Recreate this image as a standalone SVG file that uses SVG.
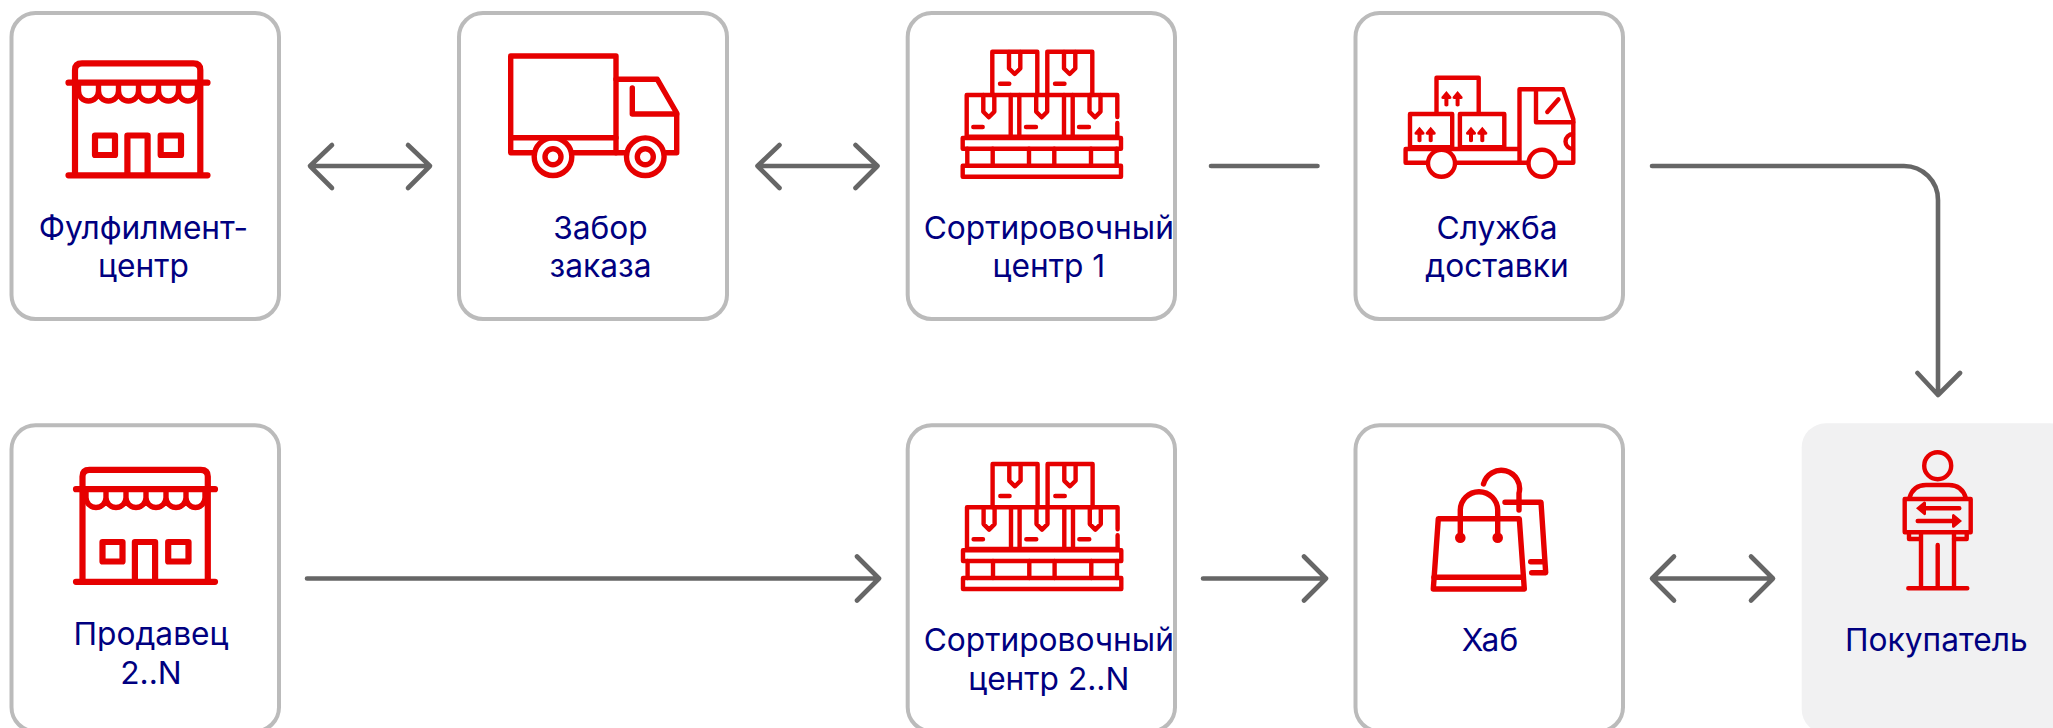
<svg xmlns="http://www.w3.org/2000/svg" xmlns:xlink="http://www.w3.org/1999/xlink" width="2053" height="728" viewBox="0 0 2053 728">
<style>
.box{fill:#fff;stroke:#bbb;stroke-width:4}
.buyer{fill:#f1f1f2;stroke:none}
.c{fill:none;stroke:#666;stroke-width:4.6;stroke-linecap:round;stroke-linejoin:round}
.i{fill:none;stroke:#e60000;stroke-linecap:round;stroke-linejoin:round;stroke-width:4.4}
.s6{stroke-width:6.200}
.s5{stroke-width:5.400}
.r{fill:#e60000;stroke:none}
.t{font-family:Inter,"Liberation Sans",sans-serif;font-size:31.700px;fill:#000080;text-anchor:middle}
</style>
<defs>
<g id="store" class="i s6">
<path d="M75,175 V70 Q75,63.300 82,63.300 H193.300 Q200.300,63.300 200.300,70 V175"/>
<path d="M68.500,82.700 H207.500 M68.500,175.300 H207.500"/>
<path class="s5" d="M78.500,83 V91 a10,10 0 0 0 20,0 V83 M98.500,91 a10,10 0 0 0 20,0 V83 M118.500,91 a10,10 0 0 0 20,0 V83 M138.500,91 a10,10 0 0 0 20,0 V83 M158.500,91 a10,10 0 0 0 20,0 V83 M178.500,91 a9.500,10 0 0 0 19,0 V83"/>
<rect x="95" y="135.500" width="20" height="19.500"/>
<rect x="160.700" y="135.500" width="20.300" height="19.500"/>
<path d="M127.400,175 V135.500 H147.600 V175"/>
</g>
<g id="pallet" class="i">
<path d="M992.300,95 V51.700 H1037.300 V95 M1047.300,95 V51.700 H1092.300 V95"/>
<path d="M966.700,136.700 V95 H1117.300 V117 M1117.300,123 V136.700"/>
<path d="M1010.700,95 V136.700 M1019.300,95 V136.700 M1064,95 V136.700 M1072.700,95 V136.700"/>
<path d="M966.700,136.700 H1117.300"/>
<path d="M1009,52 V68.500 L1014.700,74 L1020.300,68.500 V52 M1064,52 V68.500 L1069.700,74 L1075.300,68.500 V52"/>
<path d="M983.300,95 V111.800 L988.800,117.300 L994.300,111.800 V95 M1036.200,95 V111.800 L1041.700,117.300 L1047.200,111.800 V95 M1089.500,95 V111.800 L1095,117.300 L1100.500,111.800 V95"/>
<path d="M1000,83.700 H1009.300 M1055,83.700 H1064.500 M973.300,127 H982.700 M1026,127 H1036 M1079,127 H1089"/>
<rect x="962.700" y="138" width="158.300" height="10.700"/>
<path d="M967.300,148.700 V165.700 M992.700,148.700 V165.700 M1029,148.700 V165.700 M1054.300,148.700 V165.700 M1091,148.700 V165.700 M1116.700,148.700 V165.700"/>
<rect x="962.700" y="165.700" width="158.300" height="11"/>
</g>
<g id="up">
<path class="r" d="M0,0 L5,6 Q5.500,8 3.500,8 H2 V14.500 Q0,16.500 -2,14.500 V8 H-3.500 Q-5.500,8 -5,6 Z"/>
</g>
</defs>
<g id="connectors">
<path class="c" d="M310,166 H430 M332,145 L310,166 L332,188 M408,145 L430,166 L408,188"/>
<path class="c" d="M757.500,166 H877.500 M779.500,145 L757.500,166 L779.500,188 M855.500,145 L877.500,166 L855.500,188"/>
<path class="c" d="M1211,166 H1317.500"/>
<path class="c" d="M1652,166 H1904 A34,34 0 0 1 1938,200 V395 M1917.500,373 L1938,395 L1960,373"/>
<path class="c" d="M307,578.500 H878 M857,556.500 L879,578.500 L857,600.500"/>
<path class="c" d="M1203,578.500 H1326 M1304,556.500 L1326,578.500 L1304,600.500"/>
<path class="c" d="M1652,578.500 H1773 M1674,556.500 L1652,578.500 L1674,600.500 M1751,556.500 L1773,578.500 L1751,600.500"/>
</g>
<g id="node-fulfilment">
<rect class="box" x="11.500" y="13" width="267.500" height="306" rx="24"/>
<use xlink:href="#store" href="#store"/>
<text class="t" x="143.500" y="238.800">Фулфилмент-</text>
<text class="t" x="143.500" y="277.200">центр</text>
</g>
<g id="node-pickup">
<rect class="box" x="459" y="13" width="268" height="306" rx="24"/>
<g class="i s5">
<path d="M510.700,137.700 V56 H616 V152.700"/>
<path d="M510.700,137.700 H616"/>
<path d="M532.500,152.700 H510.700 V137.700 M572,152.700 H625 M666,152.700 H676.700 V113 L657.300,79.300 H616"/>
<path d="M632.300,88 V114 H676.700"/>
<circle cx="553" cy="156.700" r="18.800"/>
<circle cx="553" cy="156.700" r="8"/>
<circle cx="645.300" cy="156.700" r="18.800"/>
<circle cx="645.300" cy="156.700" r="8"/>
</g>
<text class="t" x="600.500" y="238.800">Забор</text>
<text class="t" x="600.500" y="277.200">заказа</text>
</g>
<g id="node-sort-1">
<rect class="box" x="907.700" y="13" width="267.300" height="306" rx="24"/>
<use xlink:href="#pallet" href="#pallet"/>
<text class="t" x="1048.800" y="238.800">Сортировочный</text>
<text class="t" x="1048.800" y="277.200">центр 1</text>
</g>
<g id="node-courier">
<rect class="box" x="1355.500" y="13" width="267.500" height="306" rx="24"/>
<g class="i">
<path d="M1436.500,113.300 V77.700 H1478.700 V113.300"/>
<rect x="1410" y="114" width="42.200" height="33.300"/>
<rect x="1459.900" y="114" width="44.400" height="33.300"/>
<path d="M1405.600,149 H1519.500 M1405.600,149 V162.700 H1527 M1519.500,162.700 V89.300 H1563 L1573.300,119.300 V162.700 H1556.300"/>
<path d="M1536,89.300 V122.300 H1573.300"/>
<path d="M1547.300,112 L1558.500,99.300"/>
<path d="M1573,134 a7.500,7.500 0 0 0 0,15"/>
<circle cx="1441.500" cy="163.300" r="13.500" fill="#fff"/>
<circle cx="1542" cy="163.300" r="13.500" fill="#fff"/>
</g>
<use xlink:href="#up" href="#up" x="1446.400" y="91"/>
<use xlink:href="#up" href="#up" x="1457.600" y="91"/>
<use xlink:href="#up" href="#up" x="1419.500" y="126.700"/>
<use xlink:href="#up" href="#up" x="1430.700" y="126.700"/>
<use xlink:href="#up" href="#up" x="1471" y="126.700"/>
<use xlink:href="#up" href="#up" x="1482.300" y="126.700"/>
<text class="t" x="1497" y="238.800">Служба</text>
<text class="t" x="1497" y="277.200">доставки</text>
</g>
<g id="node-seller">
<rect class="box" x="11.500" y="425.300" width="267.500" height="306" rx="24"/>
<use xlink:href="#store" href="#store" x="7.500" y="406.500"/>
<text class="t" x="151" y="644.800">Продавец</text>
<text class="t" x="151" y="683.500">2..N</text>
</g>
<g id="node-sort-n">
<rect class="box" x="907.700" y="425.300" width="267.300" height="306" rx="24"/>
<use xlink:href="#pallet" href="#pallet" x="0.300" y="412.300"/>
<text class="t" x="1048.800" y="651.200">Сортировочный</text>
<text class="t" x="1048.800" y="689.500">центр 2..N</text>
</g>
<g id="node-hub">
<rect class="box" x="1355.500" y="425.300" width="267.500" height="306" rx="24"/>
<g class="i s5">
<path d="M1483.500,484 A18.300,18.300 0 0 1 1519,493.300 V510"/>
<path d="M1505,502.300 H1541 L1545.700,572.700 H1531.700"/>
<path d="M1530.700,561.700 H1542.300"/>
<path d="M1438.300,518.700 H1519.300 L1524.300,589 H1433.300 Z"/>
<path d="M1434,577.300 H1523"/>
<path d="M1460.300,537.700 V510.400 a18.700,18.700 0 0 1 37.400,0 V537.700"/>
</g>
<circle class="r" cx="1460.300" cy="537.700" r="5.300"/>
<circle class="r" cx="1497.700" cy="537.700" r="5.300"/>
<text class="t" x="1490" y="651.200">Хаб</text>
</g>
<g id="node-buyer">
<rect class="buyer" x="1801.700" y="423.300" width="272" height="310" rx="24"/>
<g class="i">
<circle cx="1937.700" cy="465.700" r="13.500"/>
<path d="M1909.300,498.300 Q1913,485 1926,485 H1949 Q1962,485 1966,498.300"/>
<rect x="1904.700" y="499" width="66" height="33.300"/>
<path d="M1909,532.300 V539 H1920.700 M1966.700,532.300 V539 H1954"/>
<path d="M1921,532.300 V588.300 M1954,532.300 V588.300 M1937.700,545 V588.300 M1908.300,588.300 H1967.300"/>
<path d="M1921.700,508.300 H1959.300 M1917.700,521 H1955"/>
</g>
<path class="r" d="M1916,508.300 L1924,501.500 Q1926,501 1926,503 V513.600 Q1926,515.600 1924,515 Z M1962,521 L1954,514.200 Q1952,513.700 1952,515.700 V526.300 Q1952,528.300 1954,527.700 Z"/>
<text class="t" x="1936.300" y="651.200">Покупатель</text>
</g>
</svg>
